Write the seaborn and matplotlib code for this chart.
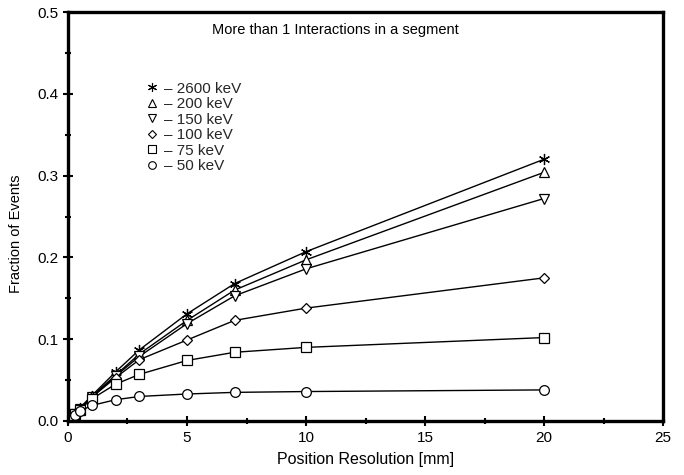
import matplotlib
matplotlib.use("Agg")
import matplotlib.pyplot as plt
from matplotlib.lines import Line2D
from matplotlib.ticker import MultipleLocator
import pandas as pd
import seaborn as sns

# position resolution [mm]
resolution = [0.15, 0.3, 0.5, 1, 2, 3, 5, 7, 10, 20]

energies = ["2600 keV", "200 keV", "150 keV", "100 keV", "75 keV", "50 keV"]
frac_2600 = [0.004, 0.009, 0.016, 0.031, 0.060, 0.087, 0.131, 0.168, 0.207, 0.320]
frac_200 = [0.004, 0.008, 0.015, 0.030, 0.056, 0.082, 0.123, 0.160, 0.197, 0.304]
frac_150 = [0.004, 0.008, 0.015, 0.029, 0.055, 0.079, 0.119, 0.153, 0.186, 0.272]
frac_100 = [0.004, 0.008, 0.015, 0.029, 0.053, 0.075, 0.099, 0.123, 0.138, 0.175]
frac_75 = [0.004, 0.008, 0.014, 0.027, 0.045, 0.057, 0.074, 0.084, 0.090, 0.102]
frac_50 = [0.003, 0.007, 0.012, 0.019, 0.026, 0.030, 0.033, 0.035, 0.036, 0.038]

series = [frac_2600, frac_200, frac_150, frac_100, frac_75, frac_50]
markers = [(6, 2, 0), "^", "v", "D", "s", "o"]
msizes = [8, 7, 7, 5.5, 7, 7]

sns.set_theme(style="white")
plt.rcParams["font.family"] = ["Liberation Sans", "DejaVu Sans"]

fig = plt.figure(figsize=(6.84, 4.75), dpi=100)
ax = fig.add_axes([0.0994, 0.1137, 0.8700, 0.8610])

handles = []
for name, vals, mk, ms in zip(energies, series, markers, msizes):
    df = pd.DataFrame({"res": resolution, "frac": vals})
    sns.lineplot(data=df, x="res", y="frac", ax=ax, color="black", linewidth=1.0,
                 marker=mk, markersize=ms, markerfacecolor="white",
                 markeredgecolor="black", markeredgewidth=0.9)
    handles.append(Line2D([], [], linestyle="none", marker=mk, markersize=ms - 1.5,
                          markerfacecolor="white", markeredgecolor="black",
                          markeredgewidth=0.8, label="\u2013 " + name))

ax.set_xlim(0, 25)
ax.set_ylim(0, 0.5)
ax.xaxis.set_major_locator(MultipleLocator(5))
ax.xaxis.set_minor_locator(MultipleLocator(2.5))
ax.yaxis.set_major_locator(MultipleLocator(0.1))
ax.yaxis.set_minor_locator(MultipleLocator(0.05))
ax.yaxis.set_major_formatter(plt.FuncFormatter(lambda v, p: f"{v:.1f}"))
ax.tick_params(which="both", direction="inout", length=7, width=1.5, color="black",
               top=False, right=False, bottom=True, left=True, labelsize=11,
               labelcolor="black")
ax.tick_params(which="minor", length=5)
for s in ax.spines.values():
    s.set_visible(True)
    s.set_color("black")
    s.set_linewidth(2.4)

ax.set_xlabel("Position Resolution [mm]", fontsize=11.5, color="black", labelpad=5)
ax.set_ylabel("Fraction of Events", fontsize=10.5, color="black")
# label in the original sits a bit below the axis centre
ax.yaxis.set_label_coords(-0.076, 0.457)

ax.text(0.45, 0.955, "More than 1 Interactions in a segment", transform=ax.transAxes,
        ha="center", va="center", fontsize=10.5, color="black")

ax.legend(handles=handles, loc="upper left", bbox_to_anchor=(0.12, 0.845), frameon=False,
          handlelength=0.8, handletextpad=0.4, labelspacing=0.1, fontsize=11,
          borderaxespad=0)

fig.savefig("out.png", dpi=100)
